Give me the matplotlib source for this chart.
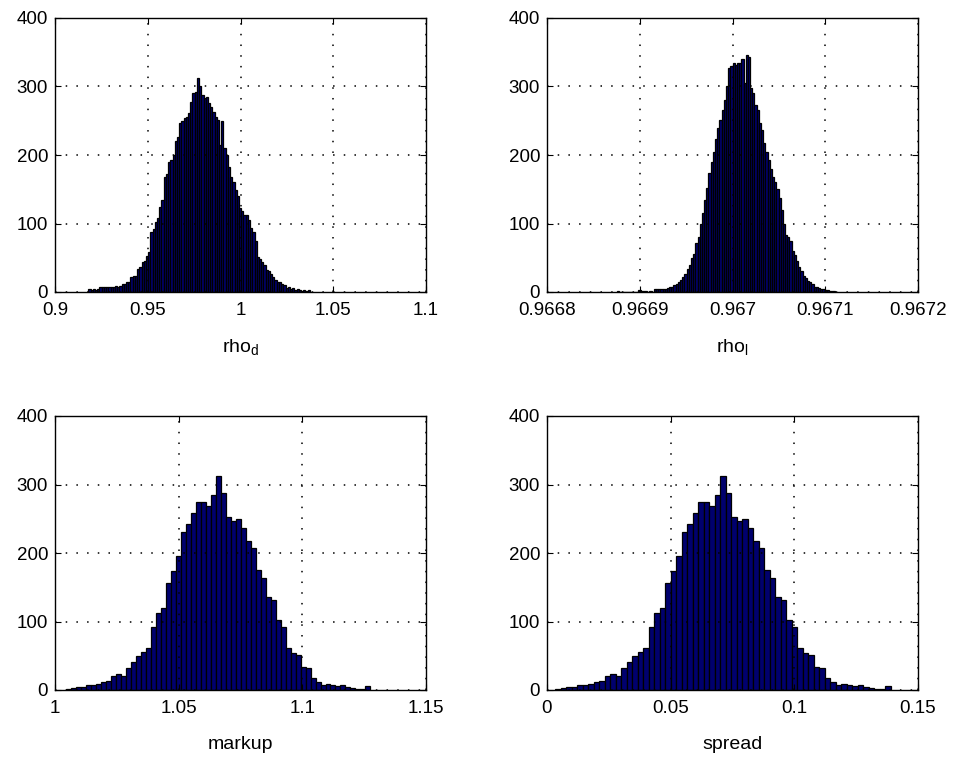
import numpy as np
import matplotlib
matplotlib.use('Agg')
import matplotlib.pyplot as plt

plt.rcParams['font.family'] = ['Liberation Sans', 'DejaVu Sans']

# histogram counts (left to right), plus the range of the bins
rho_d_range = (0.918, 1.0374)
rho_d_counts = [5, 3, 4, 3, 5, 8, 7, 8, 7, 8,
                7, 8, 9, 7, 9, 12, 11, 14, 15, 22,
                24, 23, 34, 36, 44, 45, 52, 58, 88, 92,
                102, 108, 124, 135, 168, 172, 190, 192, 200, 220,
                226, 246, 250, 254, 256, 262, 278, 290, 292, 312,
                300, 288, 283, 284, 276, 270, 263, 255, 251, 215,
                249, 210, 200, 182, 168, 160, 149, 140, 122, 118,
                112, 112, 105, 93, 88, 75, 51, 48, 44, 40,
                32, 30, 26, 22, 18, 15, 14, 12, 10, 6,
                7, 5, 6, 3, 4, 3, 2, 3, 2, 3]

rho_l_range = (0.966875, 0.967111)
rho_l_counts = [2, 0, 0, 0, 0, 0, 0, 0, 0, 0,
                3, 2, 1, 2, 0, 1, 0, 4, 4, 4,
                5, 5, 5, 6, 7, 8, 10, 12, 14, 18,
                22, 27, 34, 40, 49, 56, 71, 80, 100, 115,
                134, 152, 173, 190, 205, 224, 240, 251, 265, 280,
                300, 327, 330, 334, 332, 335, 334, 340, 305, 346,
                343, 298, 290, 273, 265, 246, 237, 217, 205, 193,
                180, 168, 160, 150, 137, 120, 100, 83, 80, 75,
                60, 54, 45, 37, 30, 24, 20, 16, 15, 12,
                8, 7, 6, 5, 4, 3, 3, 2, 1, 2]

markup_range = (1.0046, 1.1275)
markup_counts = [2, 3, 5, 4, 8, 7, 9, 11, 13, 20,
                 23, 20, 32, 41, 50, 56, 62, 92, 113, 119,
                 156, 173, 195, 231, 243, 258, 275, 275, 268, 285,
                 312, 288, 253, 246, 249, 236, 217, 207, 175, 163,
                 136, 131, 102, 92, 61, 54, 51, 34, 32, 17,
                 12, 7, 9, 7, 6, 7, 5, 3, 2, 2, 6]

spread_range = (0.0034, 0.139)
spread_counts = [2, 3, 5, 4, 8, 7, 9, 11, 13, 20,
                 23, 20, 32, 41, 50, 56, 62, 92, 113, 119,
                 156, 173, 195, 231, 243, 258, 275, 275, 268, 285,
                 312, 288, 253, 246, 249, 236, 217, 207, 175, 163,
                 136, 131, 102, 92, 61, 54, 51, 34, 32, 17,
                 12, 7, 9, 7, 6, 7, 5, 3, 2, 2, 6]

y_ticks = [0, 100, 200, 300, 400]

rho_d_ticks = [0.9, 0.95, 1.0, 1.05, 1.1]
rho_d_labels = ['0.9', '0.95', '1', '1.05', '1.1']
rho_l_ticks = [0.9668, 0.9669, 0.9670, 0.9671, 0.9672]
rho_l_labels = ['0.9668', '0.9669', '0.967', '0.9671', '0.9672']
markup_ticks = [1.0, 1.05, 1.1, 1.15]
markup_labels = ['1', '1.05', '1.1', '1.15']
spread_ticks = [0, 0.05, 0.1, 0.15]
spread_labels = ['0', '0.05', '0.1', '0.15']


def draw_hist(ax, rng, counts, ticks, labels, xlabel):
    edges = np.linspace(rng[0], rng[1], len(counts) + 1)
    ax.bar(edges[:-1], counts, width=np.diff(edges), align='edge',
           color='#00006e', edgecolor='black', linewidth=0.9, zorder=2)
    ax.set_xlim(ticks[0], ticks[-1])
    ax.set_ylim(0, 400)
    ax.set_xticks(ticks)
    ax.set_xticklabels(labels)
    ax.set_yticks(y_ticks)
    ax.tick_params(direction='in', top=True, right=True, length=4,
                   labelsize=13.5)
    ax.tick_params(axis='x', pad=7)
    ax.tick_params(axis='y', pad=5)
    ax.grid(True, color='black', linestyle=(0, (1, 6)), linewidth=1.1, zorder=3)
    ax.set_axisbelow(False)
    for s in ax.spines.values():
        s.set_linewidth(1.0)
        s.set_zorder(4)
    ax.set_xlabel(xlabel, fontsize=14, labelpad=14)


fig = plt.figure(figsize=(9.54, 7.6), dpi=100)

W, H = 954.0, 760.0
aw, ah = 371 / W, 274 / H
ax1 = fig.add_axes([55 / W, 1 - 292 / H, aw, ah])
ax2 = fig.add_axes([547 / W, 1 - 292 / H, aw, ah])
ax3 = fig.add_axes([55 / W, 1 - 690 / H, aw, ah])
ax4 = fig.add_axes([547 / W, 1 - 690 / H, aw, ah])

draw_hist(ax1, rho_d_range, rho_d_counts, rho_d_ticks, rho_d_labels, r'rho$_\mathregular{d}$')
draw_hist(ax2, rho_l_range, rho_l_counts, rho_l_ticks, rho_l_labels, r'rho$_\mathregular{l}$')
draw_hist(ax3, markup_range, markup_counts, markup_ticks, markup_labels, 'markup')
draw_hist(ax4, spread_range, spread_counts, spread_ticks, spread_labels, 'spread')

fig.savefig('out.png', dpi=100)
